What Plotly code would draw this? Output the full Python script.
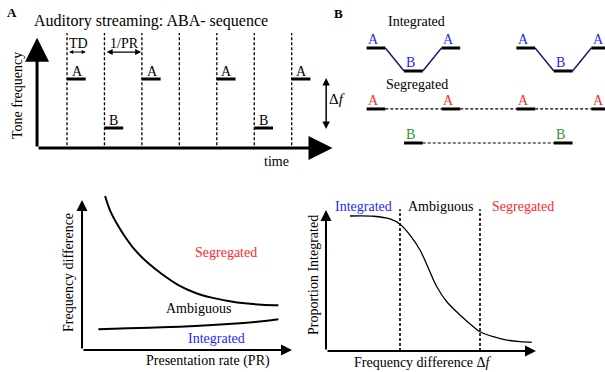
import plotly.graph_objects as go

W, H = 605, 372
FONT = "Liberation Serif, DejaVu Serif, serif"
BLUE, RED, GREEN, NAVY = "#1f1fff", "#ff2a2a", "#2a962a", "#151575"

# ---------------- data ----------------
# Panel A: ABA- sequence (time in tone slots, frequency A=1, B=0)
SLOT_LINES = [0, 1, 2, 3, 4, 5, 6]
SEQ_A_ONSETS = [0, 2, 4, 6]
SEQ_B_ONSETS = [1, 5]
TONE_DUR = 0.5
FREQ_A, FREQ_B = 1.0, 0.0

# Panel B: percepts (same time axis)
INT_A_ONSETS = [8, 10, 12, 14]
INT_B_ONSETS = [9, 13]
SEG_A_ONSETS = [8, 10, 12, 14]
SEG_B_ONSETS = [9, 13]
INT_A_LEVEL, INT_B_LEVEL = 1.0, 0.0
SEG_A_LEVEL, SEG_B_LEVEL = -1.65, -3.13

# Panel C: boundaries (presentation rate vs frequency difference)
PR_UPPER = [1.10, 1.33, 1.65, 2.05, 2.52, 3.16, 3.80, 4.59, 5.38, 6.18, 6.97, 7.76, 8.56, 9.35]
DF_UPPER = [10.27, 9.33, 8.45, 7.55, 6.67, 5.78, 5.07, 4.33, 3.82, 3.49, 3.27, 3.11, 3.02, 2.98]
PR_LOWER = [0.78, 2.20, 3.80, 5.38, 6.97, 8.24, 9.35]
DF_LOWER = [1.38, 1.45, 1.51, 1.60, 1.73, 1.87, 2.05]

# Panel D: proportion integrated vs frequency difference
DF_X = [1.20, 2.37, 3.20, 3.70, 4.20, 4.70, 5.12, 5.54, 6.04, 6.70, 7.37, 7.70, 8.37, 9.04, 9.70, 10.29]
PROP_INT = [1.0, 0.998, 0.978, 0.939, 0.859, 0.748, 0.613, 0.476, 0.365, 0.267, 0.180, 0.143, 0.106, 0.081, 0.069, 0.064]
AMBIG_BOUNDS = [3.7, 7.7]

fig = go.Figure()

def seg_xy(onsets, level):
    xs, ys = [], []
    for t in onsets:
        xs += [t, t + TONE_DUR, None]
        ys += [level, level, None]
    return xs, ys

def line(x, y, xa="x", ya="y", color="black", width=1.5, dash="solid", shape="linear"):
    fig.add_trace(go.Scatter(x=x, y=y, mode="lines", xaxis=xa, yaxis=ya, hoverinfo="skip",
                             line=dict(color=color, width=width, dash=dash, shape=shape),
                             showlegend=False))

def txt(px, py, s, color="black", size=14, angle=0, bold=False):
    fig.add_annotation(x=px / W, y=1 - py / H, xref="paper", yref="paper", text=("<b>%s</b>" % s) if bold else s,
                       showarrow=False, xanchor="center", yanchor="middle", textangle=angle,
                       font=dict(family=FONT, size=size, color=color))

def arrow(x0, y0, x1, y1, xr, yr, width=1.5, size=1.0, head=2, both=False):
    fig.add_annotation(x=x1, y=y1, ax=x0, ay=y0, xref=xr, yref=yr, axref=xr, ayref=yr,
                       showarrow=True, arrowhead=head, startarrowhead=head, arrowsize=size,
                       startarrowsize=size, arrowwidth=width, arrowcolor="black", text="",
                       arrowside="end+start" if both else "end", standoff=0, startstandoff=0)

# ---------- Panel A ----------
DASH = "3px,2px"
for t in SLOT_LINES:
    line([t, t], [-0.35, 1.94], width=1.3, dash=DASH)
ax_, ay_ = seg_xy(SEQ_A_ONSETS, FREQ_A)
line(ax_, ay_, width=3)
bx_, by_ = seg_xy(SEQ_B_ONSETS, FREQ_B)
line(bx_, by_, width=3)
arrow(-0.8, -0.41, -0.8, 1.84, "x", "y", width=3, size=1.6)
arrow(-0.8, -0.41, 7.09, -0.41, "x", "y", width=3, size=1.6)
arrow(0.02, 1.55, TONE_DUR, 1.55, "x", "y", width=1, size=0.8, both=True)
arrow(1.02, 1.55, 1.98, 1.55, "x", "y", width=1.2, size=1.0, both=True)
arrow(6.92, 1.05, 6.92, -0.02, "x", "y", width=1.5, size=1.0, both=True)
for t in SEQ_A_ONSETS:
    fig.add_annotation(x=t + 0.27, y=FREQ_A + 0.15, xref="x", yref="y", text="A", showarrow=False,
                       font=dict(family=FONT, size=14, color="black"))
for t in SEQ_B_ONSETS:
    fig.add_annotation(x=t + 0.25, y=FREQ_B + 0.16, xref="x", yref="y", text="B", showarrow=False,
                       font=dict(family=FONT, size=14, color="black"))
txt(12, 13, "A", bold=True, size=13)
txt(151, 21, "Auditory streaming: ABA- sequence", size=16)
txt(78, 43, "TD", size=14)
txt(124, 43, "1/PR", size=14)
txt(276, 161, "time", size=14)
txt(17, 96, "Tone frequency", angle=-90, size=14)
txt(337, 99, "Δ<i>f</i>", size=15)

# ---------- Panel B ----------
txt(338, 14, "B", bold=True, size=13)
txt(417, 22, "Integrated", size=14)
txt(417, 84, "Segregated", size=14)
cx, cy = [], []
for b in INT_B_ONSETS:
    cx += [b - 1 + TONE_DUR, b, None, b + TONE_DUR, b + 1, None]
    cy += [INT_A_LEVEL, INT_B_LEVEL, None, INT_B_LEVEL, INT_A_LEVEL, None]
line(cx, cy, ya="y2", color=NAVY, width=1.4)
for ons, lvl in [(SEG_A_ONSETS, SEG_A_LEVEL), (SEG_B_ONSETS, SEG_B_LEVEL)]:
    dx, dy = [], []
    for a, b in zip(ons[:-1], ons[1:]):
        dx += [a + TONE_DUR, b, None]
        dy += [lvl, lvl, None]
    line(dx, dy, ya="y2", width=1.2, dash=DASH)
for ons, lvl in [(INT_A_ONSETS, INT_A_LEVEL), (INT_B_ONSETS, INT_B_LEVEL),
                 (SEG_A_ONSETS, SEG_A_LEVEL), (SEG_B_ONSETS, SEG_B_LEVEL)]:
    sx, sy = seg_xy(ons, lvl)
    line(sx, sy, ya="y2", width=3)
for ons, lvl, lab, col in [(INT_A_ONSETS, INT_A_LEVEL, "A", BLUE), (INT_B_ONSETS, INT_B_LEVEL, "B", BLUE),
                           (SEG_A_ONSETS, SEG_A_LEVEL, "A", RED), (SEG_B_ONSETS, SEG_B_LEVEL, "B", GREEN)]:
    for t in ons:
        fig.add_annotation(x=t + 0.18, y=lvl + 0.36, xref="x", yref="y2", text=lab, showarrow=False,
                           font=dict(family=FONT, size=14, color=col))

# ---------- Panel C ----------
line(PR_UPPER, DF_UPPER, xa="x3", ya="y3", width=2, shape="spline")
line(PR_LOWER, DF_LOWER, xa="x3", ya="y3", width=2, shape="spline")
arrow(0, 0, 0, 10, "x3", "y3", width=2, size=1.1)
arrow(0, 0, 10, 0, "x3", "y3", width=2, size=1.1)
txt(68, 273, "Frequency difference", angle=-90, size=14)
txt(208, 361, "Presentation rate (PR)", size=14)
txt(226, 253, "Segregated", color=RED, size=14)
txt(198, 308, "Ambiguous", size=14)
txt(216, 338, "Integrated", color=BLUE, size=14)

# ---------- Panel D ----------
line(DF_X, PROP_INT, xa="x4", ya="y4", width=1.3, shape="spline")
for b in AMBIG_BOUNDS:
    line([b, b], [0, 1.05], xa="x4", ya="y4", width=1.6, dash=DASH)
arrow(0, 0, 0, 1.045, "x4", "y4", width=2, size=1.1)
arrow(0, 0, 10.5, 0, "x4", "y4", width=2, size=1.1)
txt(313, 275, "Proportion Integrated", angle=-90, size=14)
txt(423, 362, "Frequency difference Δ<i>f</i>", size=14)
txt(363, 207, "Integrated", color=BLUE, size=14)
txt(440, 207, "Ambiguous", size=14)
txt(523, 207, "Segregated", color=RED, size=14)

hidden = dict(visible=False, showgrid=False, zeroline=False, fixedrange=True, domain=[0, 1])
fig.update_layout(
    width=W, height=H, margin=dict(l=0, r=0, t=0, b=0),
    paper_bgcolor="white", plot_bgcolor="white", showlegend=False,
    xaxis=dict(range=[-67 / 37.45, 538 / 37.45], anchor="y", **hidden),
    yaxis=dict(range=[(128 - 372) / 49, 128 / 49], anchor="x", **hidden),
    yaxis2=dict(range=[(71 - 372) / 23, 71 / 23], overlaying="y", anchor="x", **hidden),
    xaxis3=dict(range=[-82 / 21, 523 / 21], overlaying="x", anchor="y3", **hidden),
    yaxis3=dict(range=[-22 / 15, 350 / 15], overlaying="y", anchor="x3", **hidden),
    xaxis4=dict(range=[-326 / 20, 279 / 20], overlaying="x", anchor="y4", **hidden),
    yaxis4=dict(range=[-21 / 135, 351 / 135], overlaying="y", anchor="x4", **hidden),
)
fig.write_html("out.html", config={"displayModeBar": False, "staticPlot": True},
               post_script="document.body.style.margin='0px';document.body.style.overflow='hidden';")
